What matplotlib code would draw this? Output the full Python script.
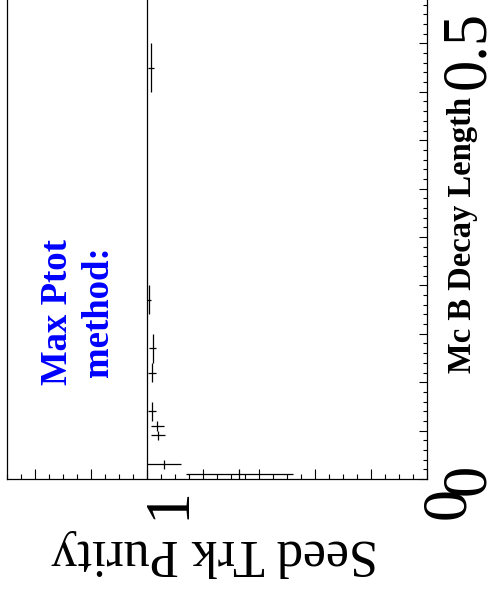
import numpy as np
import matplotlib
matplotlib.use("Agg")
from matplotlib import pyplot as plt
from matplotlib.transforms import ScaledTranslation

plt.rcParams['font.family'] = ['Liberation Serif', 'DejaVu Serif']

# decay length bins (lower/upper edge) and seed track purity per bin
decay_lo = [0.00, 0.01, 0.04, 0.05, 0.06, 0.10, 0.12, 0.17, 0.40]
decay_hi = [0.01, 0.02, 0.05, 0.06, 0.08, 0.12, 0.15, 0.20, 0.45]
purity = [0.67, 0.938, 0.961, 0.963, 0.983, 0.981, 0.980, 0.992, 0.987]
purity_err = [0.19, 0.061, 0.025, 0.022, 0.015, 0.014, 0.012, 0.007, 0.011]

purity_labels = {0: '0', 5: '1'}   # index of 0.2 step -> label
decay_labels = {0: '0', 10: '0.5'}  # index of 0.05 step -> label

lo = np.array(decay_lo)
hi = np.array(decay_hi)
centre = (lo + hi) / 2
half = (hi - lo) / 2

fig = plt.figure(figsize=(4.94, 5.90), dpi=100)
ax = fig.add_axes([7 / 494, 111 / 590, 420 / 494, 484 / 590])

# plot is drawn turned on its side: purity runs right to left, decay length upward
ax.errorbar(purity, centre, xerr=purity_err, yerr=half, fmt='none',
            ecolor='black', elinewidth=0.9, capsize=0)
ax.axvline(1, color='black', lw=0.9)

ax.set_xlim(1.5, 0)
ax.set_ylim(0, 0.5)

pt = np.arange(0, 1.5001, 0.2)
ax.set_xticks(pt)
ax.set_xticklabels([purity_labels.get(i, '') for i in range(len(pt))])
ax.set_xticks(np.arange(0, 1.5001, 0.05), minor=True)

dt = np.arange(0, 0.5001, 0.05)
ax.yaxis.tick_right()
ax.set_yticks(dt)
ax.set_yticklabels([decay_labels.get(i, '') for i in range(len(dt))])
ax.set_yticks(np.arange(0, 0.5001, 0.01), minor=True)

ax.tick_params(axis='x', which='major', direction='in', length=7.2, width=0.8,
               labelsize=46, pad=6, labelrotation=90, top=False)
ax.tick_params(axis='x', which='minor', direction='in', length=3.6, width=0.8, top=False)
ax.tick_params(axis='y', which='major', direction='in', length=6, width=0.8,
               labelsize=45, pad=9.5, labelrotation=90, left=False, right=True)
ax.tick_params(axis='y', which='minor', direction='in', length=3, width=0.8,
               left=False, right=True)

shift = ScaledTranslation(0.22, 0, fig.dpi_scale_trans)
for t in ax.xaxis.get_major_ticks():
    t.label1.set_transform(t.label1.get_transform() + shift)
for t in ax.yaxis.get_major_ticks():
    t.label2.set_va('center')
last = ax.yaxis.get_major_ticks()[-1].label2
last.set_transform(last.get_transform() + ScaledTranslation(0, -0.55, fig.dpi_scale_trans))

for s in ax.spines.values():
    s.set_linewidth(0.9)

ax.set_xlabel('Seed Trk Purity', fontsize=37.5, rotation=180)
ax.xaxis.set_label_coords(0.495, -0.153)
ax.xaxis.label.set_va('center')

ax.text(1.085, 0.504, 'Mc B Decay Length', transform=ax.transAxes, rotation=90,
        fontsize=23.5, fontweight='bold', ha='center', va='center')

ax.text(0.169, 0.345, 'Max Ptot\nmethod:', transform=ax.transAxes, rotation=90,
        fontsize=26.5, fontweight='bold', color='blue', ha='center', va='center',
        multialignment='center')

fig.savefig('out.png', dpi=100)
